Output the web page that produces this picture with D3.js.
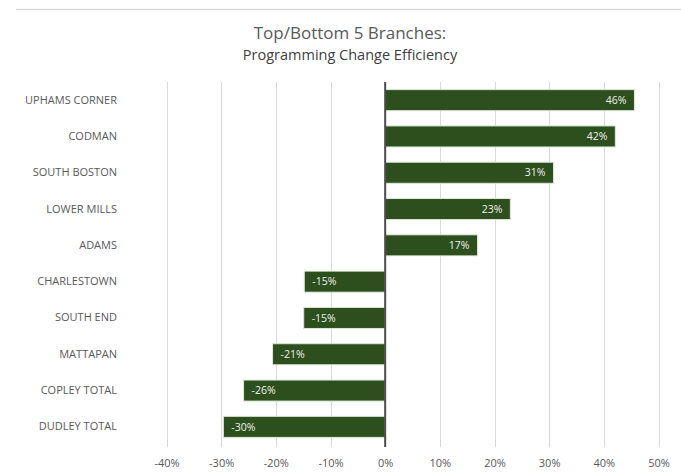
<!DOCTYPE html>
<html>
<head>
<meta charset="utf-8">
<script src="https://cdn.jsdelivr.net/npm/d3@7"></script>
<style>
  body { margin: 0; background: #fff; }
  text { font-family: "Open Sans", sans-serif; }
</style>
</head>
<body>
<div id="chart"></div>
<script>
// branches, top to bottom
const branches = ["UPHAMS CORNER", "CODMAN", "SOUTH BOSTON", "LOWER MILLS", "ADAMS",
  "CHARLESTOWN", "SOUTH END", "MATTAPAN", "COPLEY TOTAL", "DUDLEY TOTAL"];
const efficiency = [0.456, 0.421, 0.308, 0.229, 0.169, -0.148, -0.149, -0.206, -0.259, -0.296];
const xTicks = [-0.4, -0.3, -0.2, -0.1, 0, 0.1, 0.2, 0.3, 0.4, 0.5];

const width = 681, height = 472;
const data = branches.map((b, i) => ({ name: b, value: efficiency[i] }));
// plain hyphen for negatives, like the spreadsheet does
const pct = (v) => d3.format(".0%")(v).replace("\u2212", "-");

const svg = d3.select("#chart").append("svg")
  .attr("width", width)
  .attr("height", height);

// thin rule along the top
svg.append("line")
  .attr("x1", 16).attr("x2", width)
  .attr("y1", 9.5).attr("y2", 9.5)
  .style("stroke", "#d9d9d9")
  .style("stroke-width", 1.5);

svg.append("text")
  .attr("x", 350).attr("y", 39)
  .attr("text-anchor", "middle")
  .style("font-size", "17px")
  .style("fill", "#595959")
  .text("Top/Bottom 5 Branches:");

svg.append("text")
  .attr("x", 350).attr("y", 59.5)
  .attr("text-anchor", "middle")
  .style("font-size", "14.5px")
  .style("fill", "#404040")
  .text("Programming Change Efficiency");

let x = d3.scaleLinear().domain([-0.4, 0.5]).range([166.5, 658.5]);
let y = d3.scaleBand().domain(branches).range([82, 445]).paddingInner(0.42).paddingOuter(0.21);

// vertical gridlines
svg.append("g")
  .selectAll("line")
  .data(xTicks.filter((d) => d != 0))
  .enter()
  .append("line")
  .attr("x1", (d) => Math.round(x(d)) + 0.5)
  .attr("x2", (d) => Math.round(x(d)) + 0.5)
  .attr("y1", 82)
  .attr("y2", 447)
  .style("stroke", "#d9d9d9")
  .style("stroke-width", 1);

// x axis labels
let xAxis = d3.axisBottom(x).tickValues(xTicks).tickFormat(pct).tickSize(0).tickPadding(0);
let gx = svg.append("g").attr("transform", "translate(0,467)").call(xAxis);
gx.select(".domain").remove();
gx.selectAll("text")
  .attr("dy", 0)
  .style("font-size", "11px")
  .style("font-family", "'Open Sans', sans-serif")
  .style("fill", "#595959");

// category labels
let yAxis = d3.axisLeft(y).tickSize(0).tickPadding(0);
let gy = svg.append("g").attr("transform", "translate(117,0)").call(yAxis);
gy.select(".domain").remove();
gy.selectAll("text")
  .style("font-size", "11px")
  .style("font-family", "'Open Sans', sans-serif")
  .style("fill", "#595959");

// bars
svg.append("g")
  .selectAll("rect")
  .data(data)
  .enter()
  .append("rect")
  .attr("x", (d) => x(Math.min(0, d.value)))
  .attr("y", (d) => y(d.name))
  .attr("width", (d) => Math.abs(x(d.value) - x(0)))
  .attr("height", y.bandwidth())
  .style("fill", "#2d4f1e")
  .style("stroke", "#dfe7d9")
  .style("stroke-width", 1);

// value labels inside the bars
svg.append("g")
  .selectAll("text")
  .data(data)
  .enter()
  .append("text")
  .attr("x", (d) => (d.value > 0 ? x(d.value) - 8 : x(d.value) + 8))
  .attr("y", (d) => y(d.name) + y.bandwidth() / 2)
  .attr("dy", "0.35em")
  .attr("text-anchor", (d) => (d.value > 0 ? "end" : "start"))
  .style("font-size", "10.5px")
  .style("fill", "#eef2ea")
  .text((d) => pct(d.value));

// zero line
svg.append("line")
  .attr("x1", x(0)).attr("x2", x(0))
  .attr("y1", 82).attr("y2", 447)
  .style("stroke", "#4d4d4d")
  .style("stroke-width", 2);
</script>
</body>
</html>
